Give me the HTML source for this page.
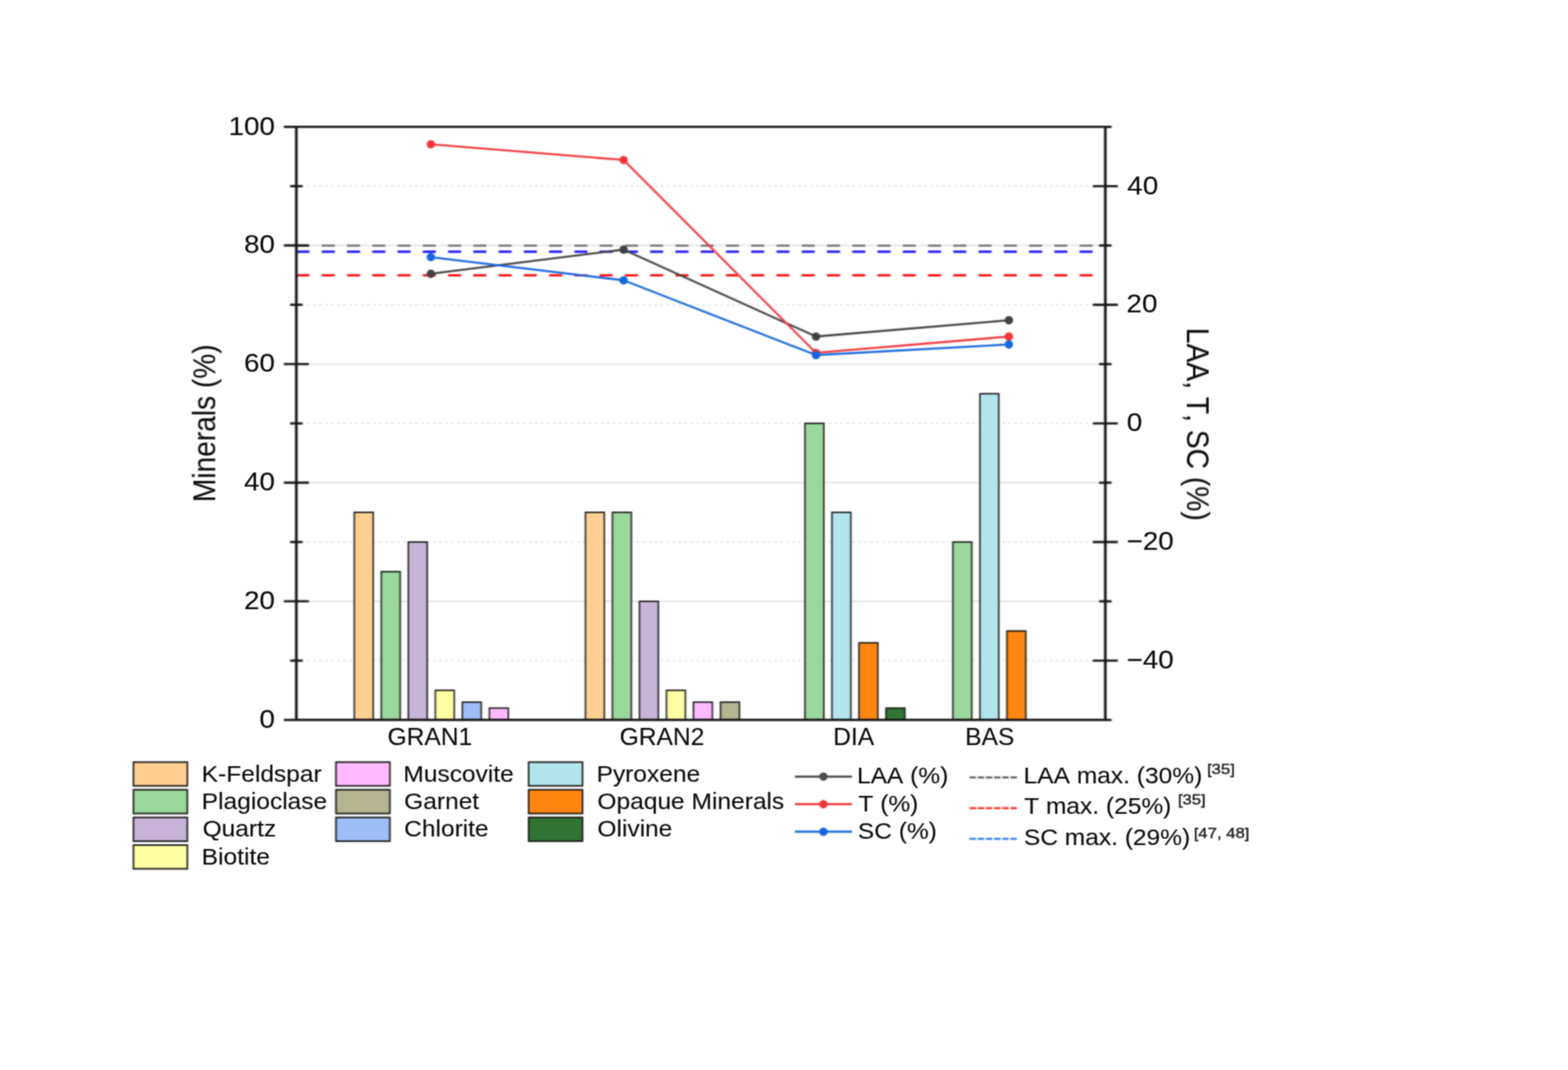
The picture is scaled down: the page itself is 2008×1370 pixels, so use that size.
<!DOCTYPE html>
<html lang="en"><head><meta charset="utf-8"><title>Minerals vs LAA, T, SC</title>
<style>
html,body{margin:0;padding:0;background:#fff;}
body{width:2008px;height:1370px;overflow:hidden;}
svg{display:block;}
text{font-family:"Liberation Sans", sans-serif;white-space:pre;font-kerning:none;stroke:#0a0a0a;stroke-width:0.12px;}
</style></head><body>
<svg width="2008" height="1370" viewBox="0 0 2008 1370">
<defs><filter id="soft" x="0" y="0" width="2008" height="1370" filterUnits="userSpaceOnUse" color-interpolation-filters="sRGB"><feConvolveMatrix order="7" kernelMatrix="0 0.00005 0.00022 0.00037 0.00022 0.00005 0 0.00013 0.00159 0.00713 0.01176 0.00713 0.00159 0.00013 0.00104 0.01269 0.05686 0.09375 0.05686 0.01269 0.00104 0.00208 0.02535 0.1136 0.18729 0.1136 0.02535 0.00208 0.00104 0.01269 0.05686 0.09375 0.05686 0.01269 0.00104 0.00013 0.00159 0.00713 0.01176 0.00713 0.00159 0.00013 0 0.00005 0.00022 0.00037 0.00022 0.00005 0" divisor="0.99845" edgeMode="duplicate" preserveAlpha="true"/></filter>
<filter id="softText" x="0" y="0" width="2008" height="1370" filterUnits="userSpaceOnUse" color-interpolation-filters="sRGB"><feConvolveMatrix order="5" kernelMatrix="0.00009 0.00198 0.00548 0.00198 0.00009 0.00198 0.0422 0.11707 0.0422 0.00198 0.00548 0.11707 0.3248 0.11707 0.00548 0.00198 0.0422 0.11707 0.0422 0.00198 0.00009 0.00198 0.00548 0.00198 0.00009" edgeMode="none" preserveAlpha="false"/></filter></defs>
<g filter="url(#soft)">
<rect width="2008" height="1370" fill="#fff"/>
<g fill="none">
<line x1="379.5" x2="1415.5" y1="769.92" y2="769.92" stroke="#e4e4e4" stroke-width="2"/>
<line x1="379.5" x2="1415.5" y1="618.04" y2="618.04" stroke="#e4e4e4" stroke-width="2"/>
<line x1="379.5" x2="1415.5" y1="466.16" y2="466.16" stroke="#e4e4e4" stroke-width="2"/>
<line x1="379.5" x2="1415.5" y1="314.28" y2="314.28" stroke="#e4e4e4" stroke-width="2"/>
<line x1="379.8" x2="1415.5" y1="845.86" y2="845.86" stroke="#e1e1e1" stroke-width="2" stroke-dasharray="2.6 5.07" stroke-dashoffset="1.3"/>
<line x1="379.8" x2="1415.5" y1="693.98" y2="693.98" stroke="#e1e1e1" stroke-width="2" stroke-dasharray="2.6 5.07" stroke-dashoffset="1.3"/>
<line x1="379.8" x2="1415.5" y1="542.10" y2="542.10" stroke="#e1e1e1" stroke-width="2" stroke-dasharray="2.6 5.07" stroke-dashoffset="1.3"/>
<line x1="379.8" x2="1415.5" y1="390.22" y2="390.22" stroke="#e1e1e1" stroke-width="2" stroke-dasharray="2.6 5.07" stroke-dashoffset="1.3"/>
<line x1="379.8" x2="1415.5" y1="238.34" y2="238.34" stroke="#e1e1e1" stroke-width="2" stroke-dasharray="2.6 5.07" stroke-dashoffset="1.3"/>
</g>
<g stroke="#161616" stroke-width="1.85" stroke-linejoin="miter">
<rect x="453.70" y="656.01" width="24.20" height="265.79" fill="#FFD091"/>
<rect x="488.30" y="731.95" width="24.20" height="189.85" fill="#9BD89B"/>
<rect x="522.90" y="693.98" width="24.20" height="227.82" fill="#C8B4D8"/>
<rect x="557.50" y="883.83" width="24.20" height="37.97" fill="#FFFFA3"/>
<rect x="592.10" y="899.02" width="24.20" height="22.78" fill="#9DBEF7"/>
<rect x="626.70" y="906.61" width="24.20" height="15.19" fill="#FFBAFF"/>
<rect x="749.70" y="656.01" width="24.20" height="265.79" fill="#FFD091"/>
<rect x="784.30" y="656.01" width="24.20" height="265.79" fill="#9BD89B"/>
<rect x="818.90" y="769.92" width="24.20" height="151.88" fill="#C8B4D8"/>
<rect x="853.50" y="883.83" width="24.20" height="37.97" fill="#FFFFA3"/>
<rect x="888.10" y="899.02" width="24.20" height="22.78" fill="#FFBAFF"/>
<rect x="922.70" y="899.02" width="24.20" height="22.78" fill="#B5B592"/>
<rect x="1030.80" y="542.10" width="24.20" height="379.70" fill="#9BD89B"/>
<rect x="1065.40" y="656.01" width="24.20" height="265.79" fill="#B2E6EC"/>
<rect x="1100.00" y="823.08" width="24.20" height="98.72" fill="#FF8611"/>
<rect x="1134.60" y="906.61" width="24.20" height="15.19" fill="#327434"/>
<rect x="1220.30" y="693.98" width="24.20" height="227.82" fill="#9BD89B"/>
<rect x="1254.90" y="504.13" width="24.20" height="417.67" fill="#B2E6EC"/>
<rect x="1289.50" y="807.89" width="24.20" height="113.91" fill="#FF8611"/>
</g>
<g fill="none" stroke-width="3" stroke-dasharray="16.7 15.65">
<line x1="379.7" x2="1414.5" y1="314.45" y2="314.45" stroke="#808080"/>
<line x1="379.7" x2="1414.5" y1="352.45" y2="352.45" stroke="#ff1414"/>
<line x1="379.7" x2="1414.5" y1="322.15" y2="322.15" stroke="#1f14f5"/>
</g>
<polyline points="551.8,350.5 798.6,319.6 1045.0,430.9 1292.0,410.0" fill="none" stroke="#404040" stroke-width="2.6" stroke-linejoin="round"/>
<circle cx="551.8" cy="350.5" r="5.4" fill="#404040"/>
<circle cx="798.6" cy="319.6" r="5.4" fill="#404040"/>
<circle cx="1045.0" cy="430.9" r="5.4" fill="#404040"/>
<circle cx="1292.0" cy="410.0" r="5.4" fill="#404040"/>
<polyline points="551.8,184.7 798.6,204.8 1045.0,451.8 1292.0,430.9" fill="none" stroke="#f0353a" stroke-width="2.6" stroke-linejoin="round"/>
<circle cx="551.8" cy="184.7" r="5.4" fill="#f0353a"/>
<circle cx="798.6" cy="204.8" r="5.4" fill="#f0353a"/>
<circle cx="1045.0" cy="451.8" r="5.4" fill="#f0353a"/>
<circle cx="1292.0" cy="430.9" r="5.4" fill="#f0353a"/>
<polyline points="551.8,329.2 798.6,358.9 1045.0,454.6 1292.0,441.0" fill="none" stroke="#1466de" stroke-width="2.6" stroke-linejoin="round"/>
<circle cx="551.8" cy="329.2" r="5.4" fill="#1466de"/>
<circle cx="798.6" cy="358.9" r="5.4" fill="#1466de"/>
<circle cx="1045.0" cy="454.6" r="5.4" fill="#1466de"/>
<circle cx="1292.0" cy="441.0" r="5.4" fill="#1466de"/>
<g stroke="#141414" stroke-width="2.9" fill="none" stroke-linecap="butt">
<line x1="377.8" x2="1417.2" y1="162.4" y2="162.4"/>
<line x1="377.8" x2="1417.2" y1="921.8" y2="921.8"/>
<line x1="379.5" x2="379.5" y1="162.4" y2="921.8" stroke-width="3.4"/>
<line x1="1415.5" x2="1415.5" y1="162.4" y2="921.8" stroke-width="3.4"/>
<line x1="363.5" x2="378.0" y1="921.80" y2="921.80"/>
<line x1="1417.0" x2="1423.5" y1="921.80" y2="921.80"/>
<line x1="371.5" x2="387.5" y1="845.86" y2="845.86"/>
<line x1="1399.5" x2="1431.5" y1="845.86" y2="845.86"/>
<line x1="363.5" x2="395.5" y1="769.92" y2="769.92"/>
<line x1="1407.5" x2="1423.5" y1="769.92" y2="769.92"/>
<line x1="371.5" x2="387.5" y1="693.98" y2="693.98"/>
<line x1="1399.5" x2="1431.5" y1="693.98" y2="693.98"/>
<line x1="363.5" x2="395.5" y1="618.04" y2="618.04"/>
<line x1="1407.5" x2="1423.5" y1="618.04" y2="618.04"/>
<line x1="371.5" x2="387.5" y1="542.10" y2="542.10"/>
<line x1="1399.5" x2="1431.5" y1="542.10" y2="542.10"/>
<line x1="363.5" x2="395.5" y1="466.16" y2="466.16"/>
<line x1="1407.5" x2="1423.5" y1="466.16" y2="466.16"/>
<line x1="371.5" x2="387.5" y1="390.22" y2="390.22"/>
<line x1="1399.5" x2="1431.5" y1="390.22" y2="390.22"/>
<line x1="363.5" x2="395.5" y1="314.28" y2="314.28"/>
<line x1="1407.5" x2="1423.5" y1="314.28" y2="314.28"/>
<line x1="371.5" x2="387.5" y1="238.34" y2="238.34"/>
<line x1="1399.5" x2="1431.5" y1="238.34" y2="238.34"/>
<line x1="363.5" x2="378.0" y1="162.40" y2="162.40"/>
<line x1="1417.0" x2="1423.5" y1="162.40" y2="162.40"/>
</g>
<rect x="170.90" y="975.80" width="69" height="30.4" fill="#FFD091" stroke="#161616" stroke-width="2"/>
<rect x="170.90" y="1011.20" width="69" height="30.4" fill="#9BD89B" stroke="#161616" stroke-width="2"/>
<rect x="170.90" y="1046.60" width="69" height="30.4" fill="#C8B4D8" stroke="#161616" stroke-width="2"/>
<rect x="170.90" y="1082.00" width="69" height="30.4" fill="#FFFFA3" stroke="#161616" stroke-width="2"/>
<rect x="430.30" y="975.80" width="69" height="30.4" fill="#FFBAFF" stroke="#161616" stroke-width="2"/>
<rect x="430.30" y="1011.20" width="69" height="30.4" fill="#B5B592" stroke="#161616" stroke-width="2"/>
<rect x="430.30" y="1046.60" width="69" height="30.4" fill="#9DBEF7" stroke="#161616" stroke-width="2"/>
<rect x="677.00" y="975.80" width="69" height="30.4" fill="#B2E6EC" stroke="#161616" stroke-width="2"/>
<rect x="677.00" y="1011.20" width="69" height="30.4" fill="#FF8611" stroke="#161616" stroke-width="2"/>
<rect x="677.00" y="1046.60" width="69" height="30.4" fill="#327434" stroke="#161616" stroke-width="2"/>
<line x1="1018" x2="1091" y1="994.30" y2="994.30" stroke="#4a4a4a" stroke-width="2.8"/>
<circle cx="1054.5" cy="994.30" r="5.4" fill="#4a4a4a"/>
<line x1="1018" x2="1091" y1="1029.60" y2="1029.60" stroke="#f0353a" stroke-width="2.8"/>
<circle cx="1054.5" cy="1029.60" r="5.4" fill="#f0353a"/>
<line x1="1018" x2="1091" y1="1064.90" y2="1064.90" stroke="#1466de" stroke-width="2.8"/>
<circle cx="1054.5" cy="1064.90" r="5.4" fill="#1466de"/>
<line x1="1241.6" x2="1302.2" y1="995.40" y2="995.40" stroke="#666" stroke-width="2.6" stroke-dasharray="8.2 2.3"/>
<line x1="1241.6" x2="1302.2" y1="1034.70" y2="1034.70" stroke="#ff1f1f" stroke-width="2.6" stroke-dasharray="8.2 2.3"/>
<line x1="1241.6" x2="1302.2" y1="1074.00" y2="1074.00" stroke="#2b78f0" stroke-width="2.6" stroke-dasharray="8.2 2.3"/>
</g>
<g filter="url(#softText)">
<text transform="translate(332.27,932.00) scale(1.067,1)" font-size="33.4" fill="#0a0a0a">0</text>
<text transform="translate(312.45,780.12) scale(1.067,1)" font-size="33.4" fill="#0a0a0a">20</text>
<text transform="translate(312.45,628.24) scale(1.067,1)" font-size="33.4" fill="#0a0a0a">40</text>
<text transform="translate(312.45,476.36) scale(1.067,1)" font-size="33.4" fill="#0a0a0a">60</text>
<text transform="translate(312.45,324.48) scale(1.067,1)" font-size="33.4" fill="#0a0a0a">80</text>
<text transform="translate(292.63,172.60) scale(1.067,1)" font-size="33.4" fill="#0a0a0a">100</text>
<text transform="translate(1443.58,248.54) scale(1.067,1)" font-size="33.4" fill="#0a0a0a">40</text>
<text transform="translate(1442.61,400.42) scale(1.067,1)" font-size="33.4" fill="#0a0a0a">20</text>
<text transform="translate(1443.01,552.30) scale(1.067,1)" font-size="33.4" fill="#0a0a0a">0</text>
<text transform="translate(1442.64,704.18) scale(1.067,1)" font-size="33.4" fill="#0a0a0a">−20</text>
<text transform="translate(1442.64,856.06) scale(1.067,1)" font-size="33.4" fill="#0a0a0a">−40</text>
<text transform="translate(496.35,954.40) scale(1.022,1)" font-size="30.8" fill="#0a0a0a">GRAN1</text>
<text transform="translate(793.57,954.40) scale(1.022,1)" font-size="30.8" fill="#0a0a0a">GRAN2</text>
<text transform="translate(1067.10,954.40) scale(1.022,1)" font-size="30.8" fill="#0a0a0a">DIA</text>
<text transform="translate(1235.94,954.40) scale(1.022,1)" font-size="30.8" fill="#0a0a0a">BAS</text>
<text transform="translate(276.00,541.50) scale(1.125,1) rotate(-90) translate(-101.37,0)" font-size="36" fill="#0a0a0a">Minerals (%)</text>
<text transform="translate(1519.50,543.70) scale(1.125,1) rotate(90) translate(-124.07,0)" font-size="36.2" fill="#0a0a0a">LAA, T, SC (%)</text>
<text transform="translate(258.32,1000.60) scale(1.0765,1)" font-size="29.2" fill="#0a0a0a">K-Feldspar</text>
<text transform="translate(258.32,1036.00) scale(1.0765,1)" font-size="29.2" fill="#0a0a0a">Plagioclase</text>
<text transform="translate(259.41,1071.40) scale(1.0765,1)" font-size="29.2" fill="#0a0a0a">Quartz</text>
<text transform="translate(258.32,1106.80) scale(1.0765,1)" font-size="29.2" fill="#0a0a0a">Biotite</text>
<text transform="translate(516.52,1000.60) scale(1.0765,1)" font-size="29.2" fill="#0a0a0a">Muscovite</text>
<text transform="translate(517.52,1036.00) scale(1.0765,1)" font-size="29.2" fill="#0a0a0a">Garnet</text>
<text transform="translate(517.50,1071.40) scale(1.0765,1)" font-size="29.2" fill="#0a0a0a">Chlorite</text>
<text transform="translate(763.92,1000.60) scale(1.0765,1)" font-size="29.2" fill="#0a0a0a">Pyroxene</text>
<text transform="translate(765.01,1036.00) scale(1.0765,1)" font-size="29.2" fill="#0a0a0a">Opaque Minerals</text>
<text transform="translate(765.01,1071.40) scale(1.0765,1)" font-size="29.2" fill="#0a0a0a">Olivine</text>
<text transform="translate(1097.42,1003.20) scale(1.0765,1)" font-size="29.2" fill="#0a0a0a">LAA (%)</text>
<text transform="translate(1099.29,1038.60) scale(1.0765,1)" font-size="29.2" fill="#0a0a0a">T (%)</text>
<text transform="translate(1098.57,1074.00) scale(1.0765,1)" font-size="29.2" fill="#0a0a0a">SC (%)</text>
<text transform="translate(1310.82,1003.00) scale(1.0765,1)" font-size="29.2" fill="#0a0a0a">LAA max. (30%)</text>
<text transform="translate(1545.68,991.30) scale(1.125,1)" font-size="19" fill="#222" style="stroke-width:0.45px;stroke:#222">[35]</text>
<text transform="translate(1311.49,1042.45) scale(1.0765,1)" font-size="29.2" fill="#0a0a0a">T max. (25%)</text>
<text transform="translate(1508.38,1030.15) scale(1.125,1)" font-size="19" fill="#222" style="stroke-width:0.45px;stroke:#222">[35]</text>
<text transform="translate(1311.17,1081.90) scale(1.0765,1)" font-size="29.2" fill="#0a0a0a">SC max. (29%)</text>
<text transform="translate(1528.68,1073.30) scale(1.125,1)" font-size="19" fill="#222" style="stroke-width:0.45px;stroke:#222">[47, 48]</text>
</g>
</svg></body></html>
